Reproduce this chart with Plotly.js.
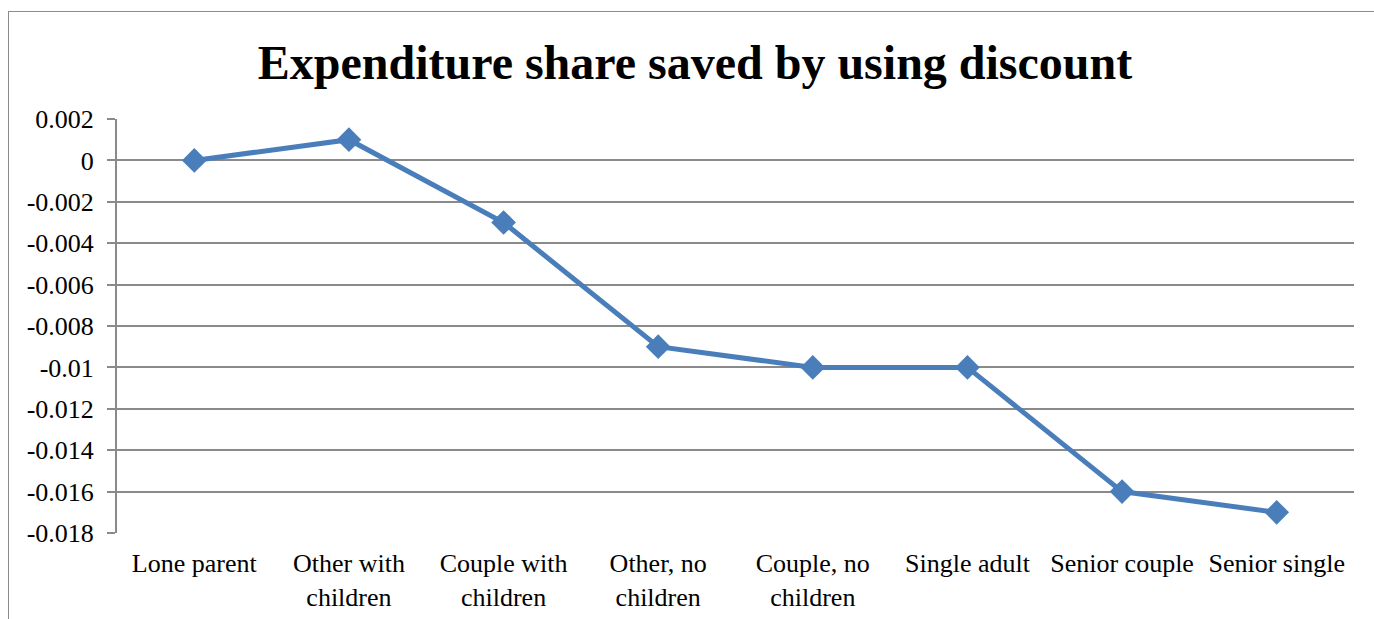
<!DOCTYPE html>
<html>
<head>
<meta charset="utf-8">
<script src="https://cdn.plot.ly/plotly-3.0.1.min.js"></script>
<style>
html,body{margin:0;padding:0;background:#fff;}
#frame{position:absolute;left:8px;top:11px;width:1400px;height:700px;border:1.5px solid #8c8c8c;box-sizing:border-box;}
#chart{position:absolute;left:0;top:0;width:1374px;height:619px;}
</style>
</head>
<body>
<div id="frame"></div>
<div id="chart"></div>
<script>
var categories = ["Lone parent", "Other with<br>children", "Couple with<br>children", "Other, no<br>children", "Couple, no<br>children", "Single adult", "Senior couple", "Senior single"];
var values = [0, 0.001, -0.003, -0.009, -0.010, -0.010, -0.016, -0.017];
var yTickVals = [0.002, 0, -0.002, -0.004, -0.006, -0.008, -0.01, -0.012, -0.014, -0.016, -0.018];
var yTickText = ["0.002", "0", "-0.002", "-0.004", "-0.006", "-0.008", "-0.01", "-0.012", "-0.014", "-0.016", "-0.018"];

var xIdx = categories.map(function(c, i){ return i; });

var trace = {
  x: xIdx,
  y: values,
  type: 'scatter',
  mode: 'lines+markers',
  line: {color: '#4a7ebb', width: 5},
  marker: {symbol: 'diamond', size: 19, color: '#4a7ebb'},
  hoverinfo: 'skip'
};

var font = "Liberation Serif, serif";

var layout = {
  width: 1374,
  height: 619,
  margin: {l: 117, r: 20, t: 119, b: 86},
  paper_bgcolor: 'rgba(0,0,0,0)',
  plot_bgcolor: 'rgba(0,0,0,0)',
  showlegend: false,
  font: {family: font, size: 26, color: '#000'},
  title: {
    text: '<b>Expenditure share saved by using discount</b>',
    font: {family: font, size: 48, color: '#000'},
    x: 695/1374, xanchor: 'center', xref: 'container',
    y: 1 - 62/619, yanchor: 'middle', yref: 'container'
  },
  xaxis: {
    range: [-0.5, 7.5],
    tickvals: xIdx,
    ticktext: categories,
    showgrid: false,
    zeroline: false,
    showline: false,
    ticks: '',
    ticklabelstandoff: 12,
    tickfont: {family: font, size: 26, color: '#000'},
    fixedrange: true
  },
  yaxis: {
    range: [-0.018, 0.002],
    tickvals: yTickVals,
    ticktext: yTickText,
    showgrid: true,
    gridcolor: '#8a8a8a',
    gridwidth: 2,
    zeroline: false,
    showline: true,
    linecolor: '#8a8a8a',
    linewidth: 2,
    ticks: 'outside',
    ticklen: 8,
    tickcolor: '#8a8a8a',
    tickwidth: 2,
    ticklabelstandoff: 8,
    tickfont: {family: font, size: 26, color: '#000'},
    fixedrange: true
  }
};

Plotly.newPlot('chart', [trace], layout, {displayModeBar: false, staticPlot: true});
</script>
</body>
</html>
